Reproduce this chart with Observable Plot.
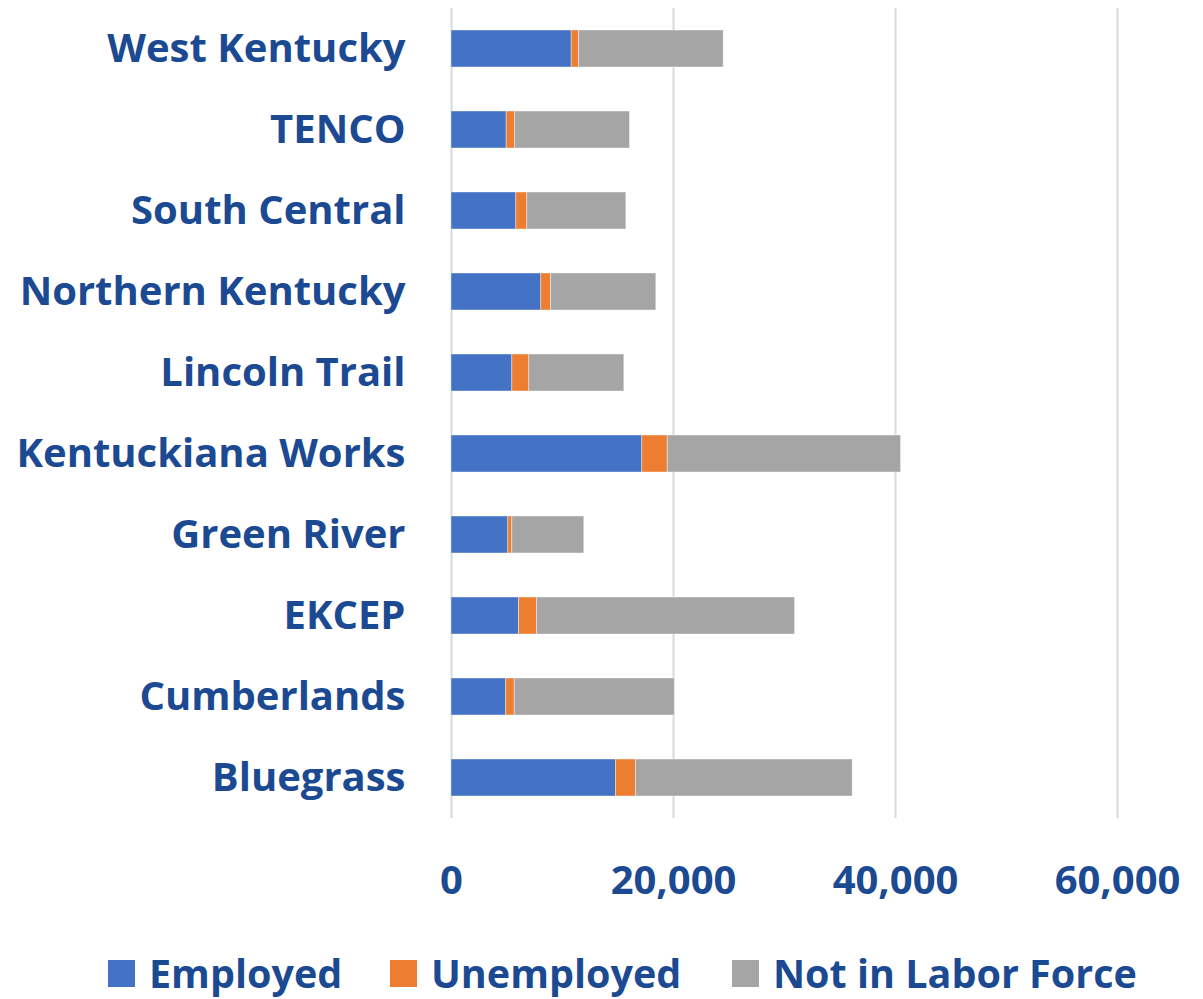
<!DOCTYPE html>
<html>
<head>
<meta charset="utf-8">
<script src="https://cdn.jsdelivr.net/npm/d3@7"></script>
<script src="https://cdn.jsdelivr.net/npm/@observablehq/plot@0.6"></script>
<style>
  html, body { margin: 0; padding: 0; background: #fff; }
  body { position: relative; width: 1203px; height: 999px; overflow: hidden; font-family: "Open Sans", sans-serif; }
  #legend { position: absolute; left: 0; top: 950px; width: 1203px; height: 46px; }
  .item { position: absolute; top: 0; display: flex; align-items: center; height: 46px; }
  .swatch { width: 27px; height: 27px; margin-right: 14px; }
  .lab { font-weight: 700; font-size: 39.5px; color: #1c4a92; white-space: nowrap; line-height: 46px; }
</style>
</head>
<body>
<div id="chart"></div>
<div id="legend"></div>
<script>
const regions = ["West Kentucky", "TENCO", "South Central", "Northern Kentucky", "Lincoln Trail",
  "Kentuckiana Works", "Green River", "EKCEP", "Cumberlands", "Bluegrass"];
const employed        = [10830, 4970, 5840, 8090, 5480, 17190, 5120, 6080, 4930, 14810];
const unemployed      = [  660,  750,  990,  870, 1530,  2290,  360, 1620,  760,  1800];
const notInLaborForce = [13030, 10360, 8920, 9490, 8560, 21020, 6480, 23250, 14430, 19530];
const seriesNames  = ["Employed", "Unemployed", "Not in Labor Force"];
const seriesColors = ["#4472C4", "#ED7D31", "#A5A5A5"];
const xTicks = [0, 20000, 40000, 60000];

const seriesValues = [employed, unemployed, notInLaborForce];
const rows = [];
regions.forEach((r, i) => {
  seriesNames.forEach((s, k) => rows.push({region: r, series: s, value: seriesValues[k][i]}));
});

const textColor = "#1c4a92";

const chart = Plot.plot({
  width: 1203,
  height: 920,
  marginLeft: 451,
  marginRight: 86,
  marginTop: 8,
  marginBottom: 102,
  style: {fontFamily: "'Open Sans', sans-serif", background: "white"},
  x: {domain: [0, 60000], label: null},
  y: {domain: regions, paddingInner: 0.54, paddingOuter: 0.27, label: null},
  color: {domain: seriesNames, range: seriesColors},
  marks: [
    Plot.gridX(xTicks, {stroke: "#d9d9d9", strokeWidth: 2, strokeOpacity: 1}),
    Plot.barX(rows, Plot.stackX({
      y: "region", x: "value", z: "series", fill: "series",
      order: seriesNames, stroke: "white", strokeWidth: 0.8, strokeOpacity: 0.5
    })),
    Plot.axisX({ticks: xTicks, tickSize: 0, tickPadding: 47, tickFormat: d3.format(","),
      fontSize: 40, fontWeight: 700, fill: textColor, label: null}),
    Plot.axisY({tickSize: 0, tickPadding: 46, fontSize: 40, fontWeight: 700,
      fill: textColor, label: null})
  ]
});
document.getElementById("chart").appendChild(chart);

// legend
const legend = document.getElementById("legend");
const legendX = [108, 390, 732];
seriesNames.forEach((s, k) => {
  const it = document.createElement("div");
  it.className = "item";
  it.style.left = legendX[k] + "px";
  const sw = document.createElement("div");
  sw.className = "swatch";
  sw.style.background = seriesColors[k];
  const lb = document.createElement("span");
  lb.className = "lab";
  lb.textContent = s;
  it.appendChild(sw); it.appendChild(lb);
  legend.appendChild(it);
});
</script>
</body>
</html>
